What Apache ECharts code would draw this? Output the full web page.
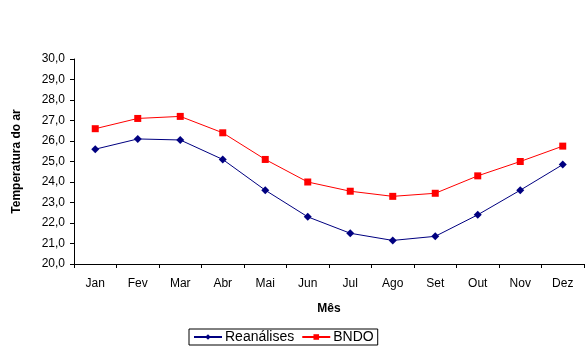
<!DOCTYPE html>
<html>
<head>
<meta charset="utf-8">
<script src="https://cdn.jsdelivr.net/npm/echarts@6/dist/echarts.min.js"></script>
<style>
  html, body { margin: 0; padding: 0; background: #fff; }
  #chart { width: 587px; height: 358px; }
</style>
</head>
<body>
<div id="chart"></div>
<script>
// Monthly mean air temperature, two sources
const months = ['Jan', 'Fev', 'Mar', 'Abr', 'Mai', 'Jun', 'Jul', 'Ago', 'Set', 'Out', 'Nov', 'Dez'];
const reanalises = [25.6, 26.1, 26.05, 25.1, 23.6, 22.3, 21.5, 21.15, 21.35, 22.4, 23.6, 24.85];
const bndo = [26.6, 27.1, 27.2, 26.4, 25.1, 24.0, 23.55, 23.3, 23.45, 24.3, 25.0, 25.75];

const font = 'Liberation Sans, Arial, sans-serif';
const chart = echarts.init(document.getElementById('chart'), null, { renderer: 'canvas' });

chart.setOption({
  animation: false,
  backgroundColor: '#ffffff',
  grid: { left: 74, top: 59, right: 3, bottom: 94, containLabel: false },
  legend: {
    data: ['Reanálises', 'BNDO'],
    left: 189, top: 329,
    itemWidth: 28, itemHeight: 7, itemGap: 7,
    padding: [1, 4, 1, 4],
    borderColor: '#000', borderWidth: 1,
    textStyle: { fontFamily: font, fontSize: 14, color: '#000', padding: [0, 0, 0, -2] }
  },
  xAxis: {
    type: 'category',
    data: months,
    boundaryGap: true,
    name: 'Mês',
    nameLocation: 'middle',
    nameGap: 39,
    nameTextStyle: { fontFamily: font, fontSize: 12, fontWeight: 'bold', color: '#000' },
    axisLine: { lineStyle: { color: '#000', width: 1 } },
    axisTick: { show: true, alignWithLabel: false, length: 4, lineStyle: { color: '#000' } },
    axisLabel: { fontFamily: font, fontSize: 12, color: '#000', margin: 14 },
    splitLine: { show: false }
  },
  yAxis: {
    type: 'value',
    min: 20, max: 30, interval: 1,
    name: 'Temperatura do ar',
    nameLocation: 'middle',
    nameGap: 51,
    nameTextStyle: { fontFamily: font, fontSize: 12, fontWeight: 'bold', color: '#000' },
    axisLine: { show: true, lineStyle: { color: '#000', width: 1 } },
    axisTick: { show: true, length: 4, lineStyle: { color: '#000' } },
    axisLabel: {
      fontFamily: font, fontSize: 12, color: '#000', margin: 9,
      formatter: v => v.toFixed(1).replace('.', ',')
    },
    splitLine: { show: false }
  },
  series: [
    {
      name: 'Reanálises',
      type: 'line',
      data: reanalises,
      symbol: 'diamond',
      symbolSize: 8,
      color: '#000080',
      lineStyle: { color: '#000080', width: 1 },
      itemStyle: { color: '#000080' }
    },
    {
      name: 'BNDO',
      type: 'line',
      data: bndo,
      symbol: 'rect',
      symbolSize: 7,
      color: '#ff0000',
      lineStyle: { color: '#ff0000', width: 1 },
      itemStyle: { color: '#ff0000' }
    }
  ]
});
</script>
</body>
</html>
